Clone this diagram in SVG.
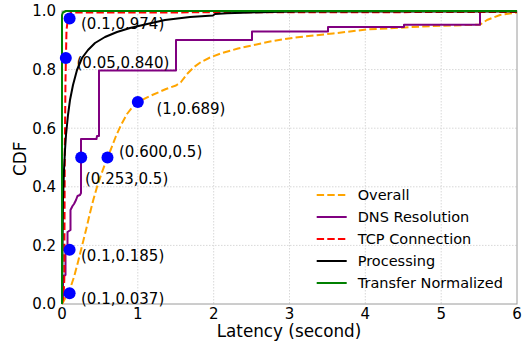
<svg xmlns="http://www.w3.org/2000/svg" width="530" height="343" viewBox="0 0 530 343">
<style>
text{font-family:"DejaVu Sans","Liberation Sans",sans-serif;fill:#000}
.tick{font-size:15px}
.ann{font-size:15px}
.leg{font-size:14.5px}
.lab{font-size:16.8px}
.grid{stroke:#d8d8d8;stroke-width:1;stroke-dasharray:1.5,1.5;fill:none}
.frame{stroke:#9a9a9a;stroke-width:1;fill:none}
.c{fill:none;stroke-width:2;stroke-linejoin:round}
.overall{stroke:#ffa500;stroke-dasharray:7.4,3.2}
.dns{stroke:#800080}
.tcp{stroke:#ff0000;stroke-dasharray:7.4,3.2}
.proc{stroke:#000000}
.xfer{stroke:#008000}
.dot{fill:#0000ff}
</style>
<rect width="530" height="343" fill="#ffffff"/>
<g id="grid">
<path class="grid" d="M137.8,11V304M213.7,11V304M289.5,11V304M365.3,11V304M441.2,11V304M62,245.4H517M62,186.8H517M62,128.2H517M62,69.6H517"/>
</g>
<g id="axes">
<rect class="frame" x="62" y="11" width="455" height="293"/>
<g class="tick" text-anchor="end">
<text x="56" y="309.4">0.0</text>
<text x="56" y="250.8">0.2</text>
<text x="56" y="192.2">0.4</text>
<text x="56" y="133.6">0.6</text>
<text x="56" y="75">0.8</text>
<text x="56" y="16.4">1.0</text>
</g>
<g class="tick" text-anchor="middle">
<text x="62" y="318.5">0</text>
<text x="137.8" y="318.5">1</text>
<text x="213.7" y="318.5">2</text>
<text x="289.5" y="318.5">3</text>
<text x="365.3" y="318.5">4</text>
<text x="441.2" y="318.5">5</text>
<text x="517" y="318.5">6</text>
</g>
<text class="lab" x="289" y="337" text-anchor="middle">Latency (second)</text>
<text class="lab" transform="translate(25.5,158.8) rotate(-90)" text-anchor="middle">CDF</text>
</g>
<g id="connectors">
<path id="overall" class="c overall" d="M62,304 L64,300.5 L67,295 L70,289 L74,277 L78,262 L82,246 L86,230 L90,213 L93,201 L97,187 L101,175 L105,164 L107.5,157.5 L111,149 L116,136 L121,125 L127,114 L132,107.5 L137.8,102 L150,96 L166,89 L176,85.5 L181,82 L187,74 L194,67 L201,62 L210,57.5 L222,53 L238,48.5 L254,45 L270,41.5 L285,39 L300,37 L333,33.5 L367,29.5 L400,27.7 L433,26 L467,25 L480,24.7 L487,20 L500,15 L517,12.5"/>
<path id="dns" class="c dns" d="M62,304 L62,300 L63,296 L63,276 L65.5,275 L65.5,251 L67.5,249 L67.5,232 L70.5,230 L70.5,210 L72.5,206 L74,204 L76,200 L77.5,196 L80,195 L81,193 L81,139 L96.5,139 L97,136 L99,136 L99,70.5 L176,70.5 L176,40 L252,40 L252,31.5 L328,31.5 L328,27 L404,27 L404,24.7 L480,24.7 L480,11 L517,11"/>
<path id="tcp" class="c tcp" d="M62,304 L63.5,297 L64.3,280 L64.8,150 L65.5,80 L66.5,30 L68,18 L71,12.5 L517,12"/>
<path id="proc" class="c proc" d="M62,304 L62.5,250 L63,200 L64,170 L65,150 L66,135 L68,115 L70,100 L73,85 L77,70 L82,58 L88,50 L95,43 L105,37 L117,32 L130,28 L145,24.5 L165,20 L190,17 L213,15.5 L215,14 L227,13.3 L250,12.5 L270,12 L300,11.5 L517,11.5"/>
<path id="xfer" class="c xfer" d="M62,304 L62,15 L63,12.5 L66,11 L517,11"/>
</g>
<g id="points">
<circle class="dot" cx="69.6" cy="18.6" r="6"/>
<circle class="dot" cx="65.8" cy="57.9" r="6"/>
<circle class="dot" cx="137.8" cy="102.1" r="6"/>
<circle class="dot" cx="107.5" cy="157.5" r="6"/>
<circle class="dot" cx="81.2" cy="157.5" r="6"/>
<circle class="dot" cx="69.6" cy="249.8" r="6"/>
<circle class="dot" cx="69.6" cy="293.2" r="6"/>
</g>
<g id="annotations" class="ann">
<text x="81" y="29">(0.1,0.974)</text>
<text x="76.5" y="67.5">(0.05,0.840)</text>
<text x="156.5" y="113.5">(1,0.689)</text>
<text x="119" y="157">(0.600,0.5)</text>
<text x="85" y="183.5">(0.253,0.5)</text>
<text x="81" y="261">(0.1,0.185)</text>
<text x="81" y="303.5">(0.1,0.037)</text>
</g>
<g id="legend">
<g class="c">
<line class="overall" x1="316.7" y1="195" x2="346.7" y2="195"/>
<line class="dns" x1="316.7" y1="217" x2="346.7" y2="217"/>
<line class="tcp" x1="316.7" y1="239" x2="346.7" y2="239"/>
<line class="proc" x1="316.7" y1="261" x2="346.7" y2="261"/>
<line class="xfer" x1="316.7" y1="283" x2="346.7" y2="283"/>
</g>
<g class="leg">
<text x="357.7" y="200.2">Overall</text>
<text x="357.7" y="222.2">DNS Resolution</text>
<text x="357.7" y="244.2">TCP Connection</text>
<text x="357.7" y="266.2">Processing</text>
<text x="357.7" y="288.2">Transfer Normalized</text>
</g>
</g>
</svg>
